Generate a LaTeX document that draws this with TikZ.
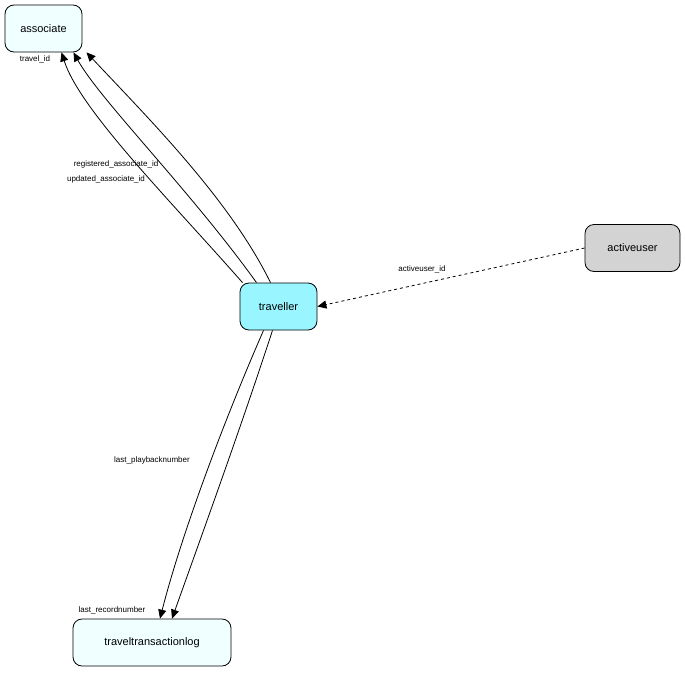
\documentclass[tikz,border=0pt]{standalone}
\usepackage{fontspec}
\setmainfont{Liberation Sans}
\usetikzlibrary{arrows.meta}
\begin{document}
\begin{tikzpicture}[x=1pt, y=-1pt, line width=0.8pt,
  table/.style={draw, rounded corners=9pt, minimum height=47pt, font=\fontsize{11}{13}\selectfont, inner sep=0pt},
  fk/.style={-{Triangle[length=9pt,width=8pt]}},
  lbl/.style={font=\fontsize{8}{10}\selectfont, inner sep=1pt}]

\useasboundingbox (0,0) rectangle (685,672);

% tables
\node[table, fill={rgb,255:red,240;green,255;blue,255}, minimum width=77pt] (associate) at (43.5,28.5) {associate};
\node[table, fill={rgb,255:red,153;green,245;blue,255}, minimum width=77pt] (traveller) at (278.5,306.5) {traveller};
\node[table, fill={rgb,255:red,211;green,211;blue,211}, minimum width=95pt] (activeuser) at (632.5,248) {activeuser};
\node[table, fill={rgb,255:red,240;green,255;blue,255}, minimum width=158pt] (travellog) at (152,642.5) {traveltransactionlog};

% foreign keys to associate
\draw[fk] ([xshift=-36pt]traveller.north) .. controls (170,200) and (80,110) .. ([xshift=18pt]associate.south);
\draw[fk] ([xshift=-22pt]traveller.north) .. controls (190,190) and (100,100) .. ([xshift=30pt]associate.south);
\draw[fk] ([xshift=-8pt]traveller.north) .. controls (230,200) and (150,120) .. ([xshift=43pt]associate.south);

% foreign keys to traveltransactionlog
\draw[fk] ([xshift=-15pt]traveller.south) .. controls (220,430) and (180,540) .. ([xshift=8pt]travellog.north);
\draw[fk] ([xshift=-6pt]traveller.south) .. controls (240,430) and (200,540) .. ([xshift=20pt]travellog.north);

% activeuser
\draw[fk, dashed] (activeuser.west) -- (traveller.east);

% labels
\node[lbl] (lbltravel) at (35,59) {travel\_id};
\node[lbl] (lblreg) at (116,164) {registered\_associate\_id};
\node[lbl] (lblupd) at (106,179) {updated\_associate\_id};
\node[lbl] (lblactive) at (422,269) {activeuser\_id};
\node[lbl] (lblplay) at (152,460) {last\_playbacknumber};
\node[lbl] (lblrec) at (112,610) {last\_recordnumber};

\end{tikzpicture}
\end{document}
